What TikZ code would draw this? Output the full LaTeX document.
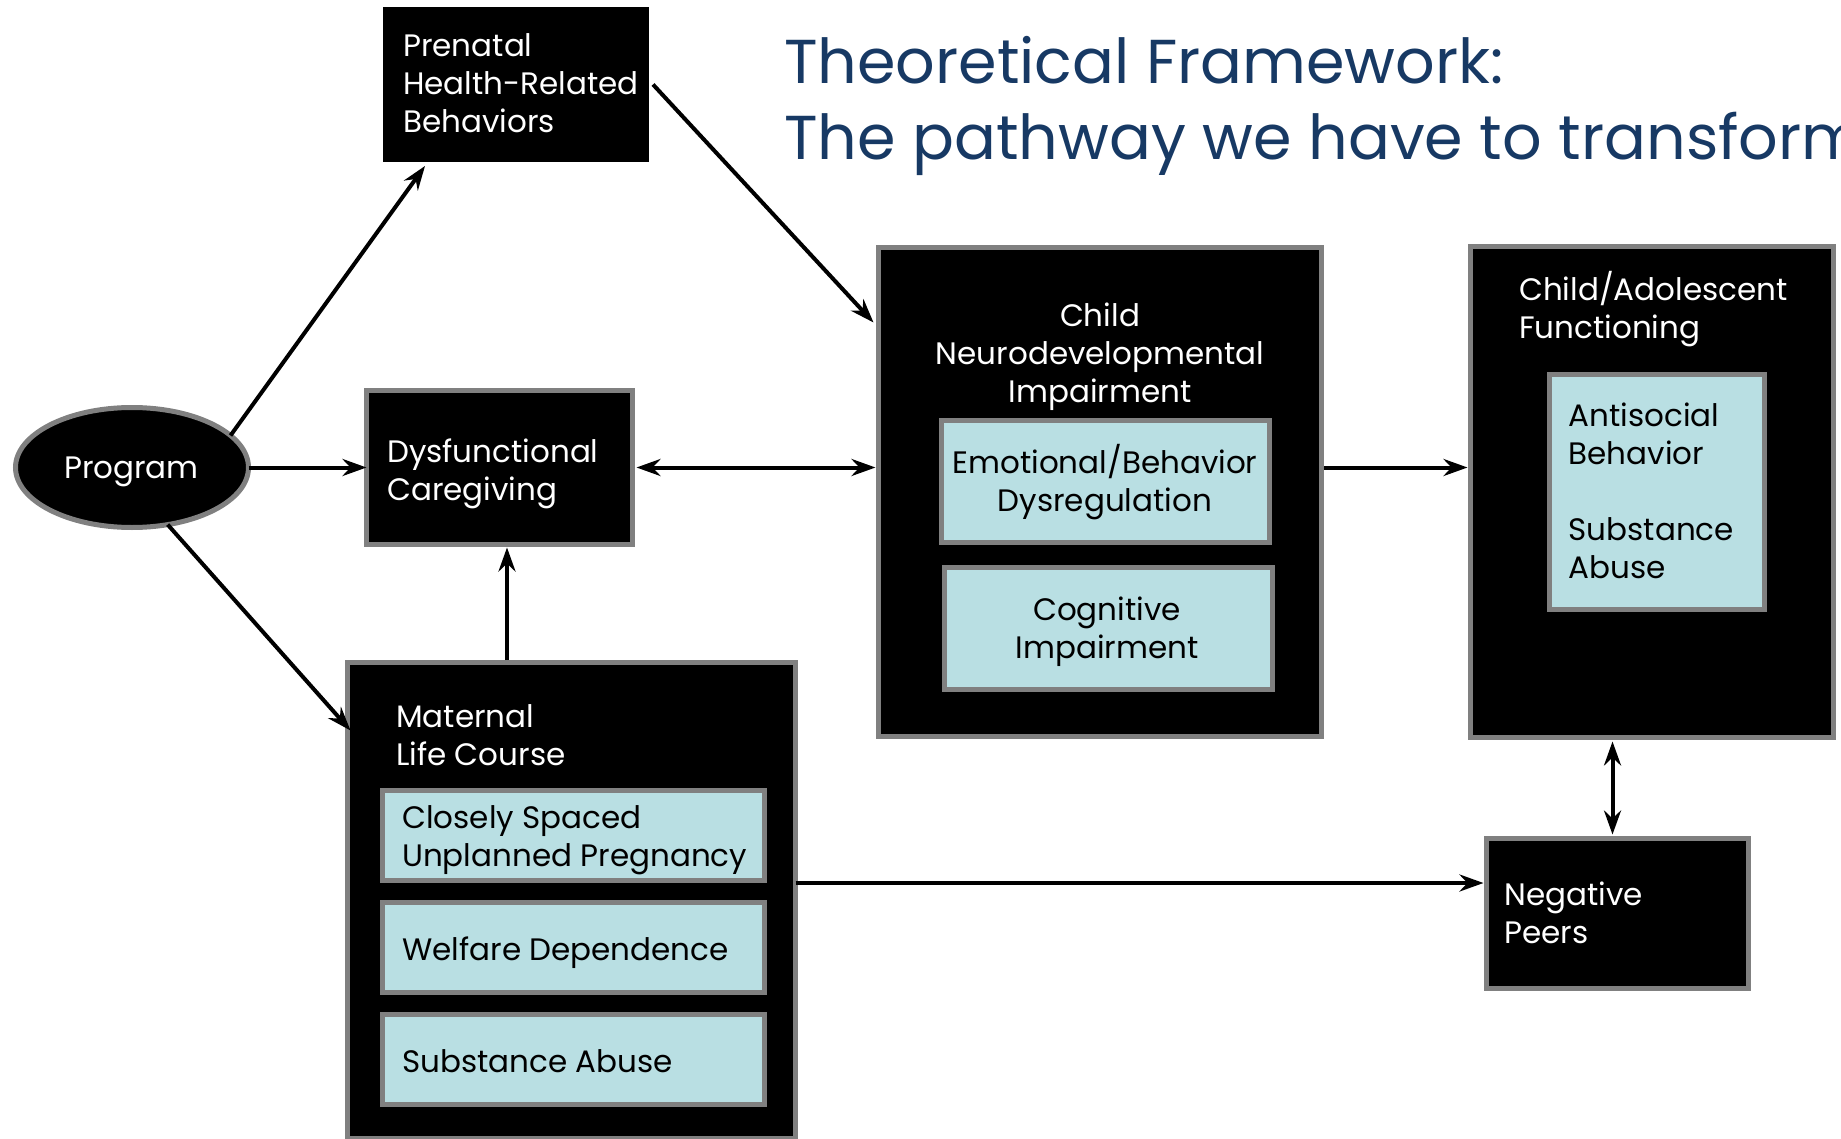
\documentclass[tikz,border=0pt]{standalone}
\usepackage{fontspec}
\setmainfont{Poppins}
\usetikzlibrary{arrows.meta,calc,shapes.geometric}
\definecolor{bordergray}{RGB}{128,128,128}
\definecolor{lightblue}{RGB}{185,223,227}
\definecolor{titleblue}{RGB}{23,57,100}
\tikzset{
  blkbox/.style={fill=black, draw=bordergray, line width=5pt, inner sep=0pt, outer sep=0pt},
  bluebox/.style={fill=lightblue, draw=bordergray, line width=5pt, inner sep=0pt, outer sep=0pt},
  wtxt/.style={text=white, align=left, inner sep=0pt, anchor=base west, font=\fontsize{31}{38}\selectfont},
  ctxt/.style={text=white, align=center, inner sep=0pt, anchor=base, font=\fontsize{31}{38}\selectfont},
  ktxt/.style={text=black, align=left, inner sep=0pt, anchor=base west, font=\fontsize{31}{38}\selectfont},
  kctxt/.style={text=black, align=center, inner sep=0pt, anchor=base, font=\fontsize{31}{38}\selectfont},
  arr/.style={line width=4pt, -{Stealth[length=24pt,width=17pt,inset=8pt]}},
  darr/.style={line width=4pt, {Stealth[length=24pt,width=17pt,inset=8pt]}-{Stealth[length=24pt,width=17pt,inset=8pt]}},
}
\begin{document}
\begin{tikzpicture}[x=1pt,y=-1pt]
\useasboundingbox (0,0) rectangle (1841,1139);
\clip (0,0) rectangle (1841,1139);

% title
\node[text=titleblue, anchor=base west, inner sep=0pt, font=\fontsize{62}{76}\selectfont] (t1) at (784,84) {Theoretical Framework:};
\node[text=titleblue, anchor=base west, inner sep=0pt, font=\fontsize{62}{76}\selectfont] (t2) at (784,160) {The pathway we have to transform};

% boxes (text nodes anchored at the baseline of their last line)
\node[fill=black, draw=none, inner sep=0pt, outer sep=0pt, minimum width=266pt, minimum height=155pt] (pren) at (516,84.5) {};
\node[wtxt] (prentxt) at (403,133) {Prenatal\\Health-Related\\Behaviors};

\node[ellipse, fill=black, draw=bordergray, line width=5pt, inner sep=0pt, outer sep=0pt, minimum width=233pt, minimum height=120pt] (prog) at (132,467.5) {};
\node[ctxt] (progtxt) at (131.5,478) {Program};

\node[blkbox, minimum width=266pt, minimum height=154pt] (dys) at (499.5,467.5) {};
\node[wtxt] (dystxt) at (387,500) {Dysfunctional\\Caregiving};

\node[blkbox, minimum width=443pt, minimum height=489pt] (neuro) at (1100,492) {};
\node[ctxt] (neurotxt) at (1100,402) {Child\\Neurodevelopmental\\Impairment};
\node[bluebox, minimum width=328pt, minimum height=122pt] (emo) at (1105.5,481.5) {};
\node[kctxt] (emotxt) at (1105,511) {Emotional/Behavior\\Dysregulation};
\node[bluebox, minimum width=328pt, minimum height=122pt] (cog) at (1108.5,628.5) {};
\node[kctxt] (cogtxt) at (1107,658) {Cognitive\\Impairment};

\node[blkbox, minimum width=363pt, minimum height=491pt] (adol) at (1652,492) {};
\node[wtxt] (adoltxt) at (1519,338.5) {Child/Adolescent\\Functioning};
\node[bluebox, minimum width=215pt, minimum height=235pt] (anti) at (1657,492) {};
\node[ktxt] (antitxt) at (1568.5,578) {Antisocial\\Behavior\\[38pt]Substance\\Abuse};

\node[blkbox, minimum width=262pt, minimum height=150pt] (peers) at (1617.5,913.5) {};
\node[wtxt] (peerstxt) at (1504,943) {Negative\\Peers};

\node[blkbox, minimum width=448pt, minimum height=476pt] (mat) at (571.5,900.5) {};
\node[wtxt] (mattxt) at (396,765) {Maternal\\Life Course};
\node[bluebox, minimum width=382pt, minimum height=90pt] (close) at (573.5,835.5) {};
\node[ktxt] (closetxt) at (402,866) {Closely Spaced\\Unplanned Pregnancy};
\node[bluebox, minimum width=382pt, minimum height=90pt] (welf) at (573.5,947.5) {};
\node[ktxt] (welftxt) at (402,960) {Welfare Dependence};
\node[bluebox, minimum width=382pt, minimum height=90pt] (subst) at (573.5,1059.5) {};
\node[ktxt] (substtxt) at (402,1072) {Substance Abuse};

% connectors
\draw[arr] (prog.18) -- ($(pren.south west)+(42,4)$);
\draw[arr] (prog.east) -- (prog.east -| dys.west);
\draw[arr] (prog.-58) -- ($(mat.north west)+(3,68)$);
\draw[arr] ($(pren.east)+(4,0)$) -- ($(neuro.north west)+(-5,75)$);
\draw[darr] ($(dys.east)+(4,0)$) -- ($(dys.east -| neuro.west)+(-3,0)$);
\coordinate (m1) at ($(mat.north west)+(159.5,-2.5)$);
\draw[arr] (m1) -- ($(m1 |- dys.south)+(0,3)$);
\draw[arr] ($(dys.east -| neuro.east)+(2.5,0)$) -- ($(dys.east -| adol.west)+(-3,0)$);
\coordinate (p1) at ($(peers.north)+(-5,0)$);
\draw[darr] ($(p1)+(0,-4)$) -- ($(p1 |- adol.south)+(0,4)$);
\coordinate (c1) at ($(mat.east |- close.south)+(0,2.5)$);
\draw[arr] (c1) -- ($(c1 -| peers.west)+(-3,0)$);
\end{tikzpicture}
\end{document}
